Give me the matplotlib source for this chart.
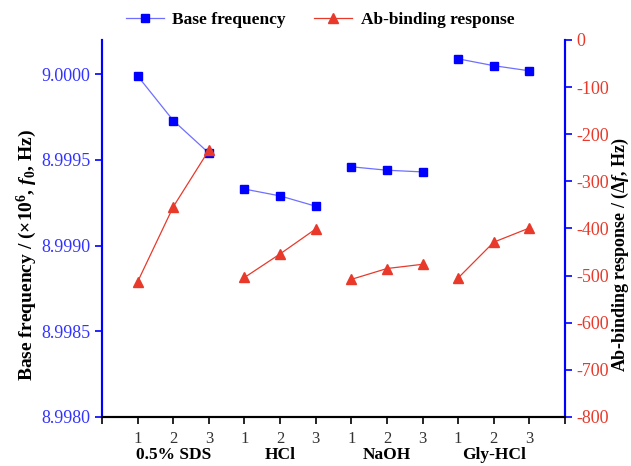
import matplotlib.pyplot as plt
import numpy as np

plt.rcParams['font.family'] = 'Liberation Serif'
plt.rcParams['mathtext.fontset'] = 'custom'
plt.rcParams['mathtext.rm'] = 'Liberation Serif:bold'
plt.rcParams['mathtext.it'] = 'Liberation Serif:bold:italic'

groups = ['0.5% SDS', 'HCl', 'NaOH', 'Gly-HCl']
cycles = ['1', '2', '3']

# base frequency (x10^6 Hz), per group
base_freq = [
    [8.99999, 8.99973, 8.99954],
    [8.99933, 8.99929, 8.99923],
    [8.99946, 8.99944, 8.99943],
    [9.00009, 9.00005, 9.00002],
]
# Ab-binding response (Hz), per group
ab_resp = [
    [-513, -354, -234],
    [-504, -454, -401],
    [-508, -485, -476],
    [-505, -429, -399],
]

blue = '#0000FF'
red = '#E8392A'

fig = plt.figure(figsize=(6.31, 4.66), dpi=100)
ax = fig.add_axes([0.1617, 0.1052, 0.7337, 0.809])
ax2 = ax.twinx()

for i in range(len(groups)):
    x = np.arange(3) + 1 + 3 * i
    l1, = ax.plot(x, base_freq[i], color='#6f6fff', lw=0.9, marker='s', ms=6,
                  mfc=blue, mec=blue)
    l2, = ax2.plot(x, ab_resp[i], color=red, lw=0.9, marker='^', ms=7,
                   mfc=red, mec=red)

ax.set_xlim(0, 13)
ax.set_ylim(8.998, 9.0002)
ax.set_yticks([8.998, 8.9985, 8.999, 8.9995, 9.0])
ax.set_yticklabels(['%.4f' % v for v in [8.998, 8.9985, 8.999, 8.9995, 9.0]])
ax2.set_ylim(-800, 0)
ax2.set_yticks(np.arange(-800, 1, 100))
ax2.set_yticklabels(['%d' % v if v == 0 else '-%d' % -v for v in np.arange(-800, 1, 100)])

ax.set_xticks(np.arange(0, 14))
ax.set_xticklabels([''] + cycles * 4 + [''])

for a in (ax, ax2):
    a.spines['top'].set_visible(False)
    a.spines['left'].set_color(blue)
    a.spines['right'].set_color(blue)
    a.spines['left'].set_linewidth(1.5)
    a.spines['right'].set_linewidth(1.5)
    a.spines['bottom'].set_linewidth(1.5)

ax.tick_params(axis='y', colors=blue, labelcolor='#3333ff', labelsize=13,
               direction='out', length=5, width=1.2)
ax2.tick_params(axis='y', colors=blue, labelcolor=red, labelsize=13,
                direction='out', length=5, width=1.2)
ax.tick_params(axis='x', labelsize=12, direction='out', length=5, width=1.2,
               colors='black', labelcolor='#333333', pad=5)

for i, g in enumerate(groups):
    ax.text(2 + 3 * i, -0.10, g, transform=ax.get_xaxis_transform(),
            ha='center', va='center', fontsize=12.5, fontweight='bold')

ax.set_ylabel(r'Base frequency / (×10$^{6}$, $f_0$, Hz)', fontsize=14,
              fontweight='bold')
ax2.set_ylabel(r'Ab-binding response / ($\Delta f$, Hz)', fontsize=13,
               fontweight='bold')
ax.yaxis.set_label_coords(-0.136, 0.43)
ax2.yaxis.set_label_coords(1.097, 0.43)

fig.legend([l1, l2], ['Base frequency', 'Ab-binding response'], loc='center',
           bbox_to_anchor=(0.507, 0.957), ncol=2, frameon=False,
           prop={'weight': 'bold', 'size': 12.5}, handlelength=2.2,
           columnspacing=1.6, handletextpad=0.5)

fig.savefig('out.png', dpi=100)
